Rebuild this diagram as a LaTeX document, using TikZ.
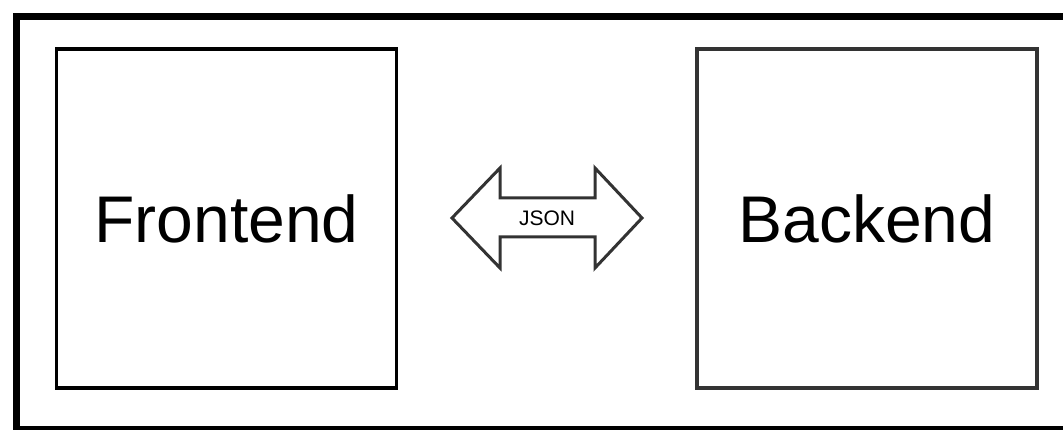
\documentclass[tikz,border=0pt]{standalone}
\usepackage{fontspec}
\setmainfont{Liberation Sans}
\usetikzlibrary{calc}
\begin{document}
\begin{tikzpicture}[x=1pt,y=-1pt,
  bigbox/.style={draw, line width=3.5pt, minimum width=340pt, minimum height=339pt, inner sep=0pt, font=\fontsize{66}{79}\selectfont},
  arrowline/.style={draw=black!80, line width=3pt, line join=miter}]
\useasboundingbox (0,0) rectangle (1063,430);
\clip (0,0) rectangle (1063,430);
\fill[white] (0,0) rectangle (1063,430);
% outer frame
\draw[line width=7pt, black] (16.5,16.5) rectangle (1075,429.5);
% boxes
\node[bigbox, draw=black] (fe) at (226.5,218.5) {Frontend};
\node[bigbox, draw=black!80] (be) at (867,218.5) {Backend};
% JSON double arrow
\node[font=\fontsize{21}{25}\selectfont, inner sep=0pt] (json) at (547,218) {JSON};
\draw[arrowline] ($(json.center)+(-95,0)$) coordinate (tl)
  -- ++(48,-50) -- ++(0,30) -- ++(95,0) -- ++(0,-30) -- ++(47,50)
  -- ++(-47,50) -- ++(0,-31) -- ++(-95,0) -- ++(0,31) -- cycle;
\end{tikzpicture}
\end{document}
